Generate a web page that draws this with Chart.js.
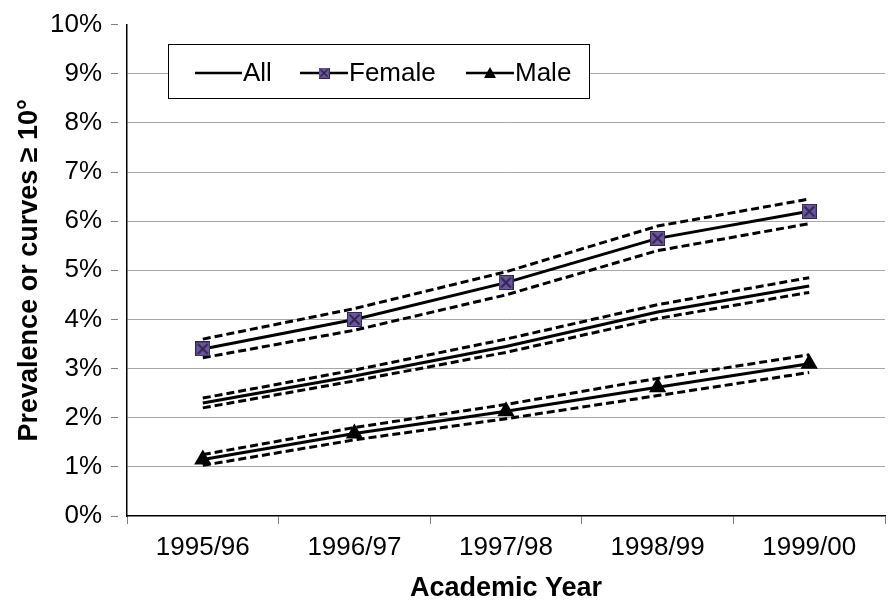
<!DOCTYPE html>
<html>
<head>
<meta charset="utf-8">
<script src="https://cdn.jsdelivr.net/npm/chart.js@4.4.1/dist/chart.umd.min.js"></script>
<style>
  html, body { margin: 0; padding: 0; background: #fff; overflow: hidden; }
  #wrap { width: 895px; height: 605px; }
</style>
</head>
<body>
<div id="wrap"><canvas id="chart"></canvas></div>
<script>
const years = ["1995/96", "1996/97", "1997/98", "1998/99", "1999/00"];

// prevalence (%) with dashed confidence bands
const allVals   = [2.30, 2.85, 3.45, 4.15, 4.68];
const allUpper  = [2.40, 2.97, 3.60, 4.30, 4.85];
const allLower  = [2.20, 2.75, 3.33, 4.02, 4.55];

const femaleVals  = [3.40, 4.00, 4.75, 5.65, 6.20];
const femaleUpper = [3.60, 4.22, 4.97, 5.90, 6.45];
const femaleLower = [3.22, 3.78, 4.50, 5.40, 5.95];

const maleVals  = [1.15, 1.68, 2.13, 2.62, 3.10];
const maleUpper = [1.25, 1.80, 2.27, 2.80, 3.28];
const maleLower = [1.03, 1.55, 1.98, 2.45, 2.92];

const yTicks = [0, 1, 2, 3, 4, 5, 6, 7, 8, 9, 10];

const FONT = "'Liberation Sans', Arial, sans-serif";

// square-with-cross marker for Female
function crossSquare(size) {
  const c = document.createElement("canvas");
  c.width = size; c.height = size;
  const g = c.getContext("2d");
  g.fillStyle = "#6b579b";
  g.fillRect(0, 0, size, size);
  g.strokeStyle = "#2f2552";
  g.lineWidth = 1;
  g.strokeRect(0.5, 0.5, size - 1, size - 1);
  g.lineWidth = 1.8;
  g.beginPath();
  g.moveTo(2.5, 2.5); g.lineTo(size - 2.5, size - 2.5);
  g.moveTo(size - 2.5, 2.5); g.lineTo(2.5, size - 2.5);
  g.stroke();
  return c;
}
const femaleMarker = crossSquare(15);

function solid(label, data, extra) {
  return Object.assign({
    label: label, data: data,
    borderColor: "#000", backgroundColor: "#000",
    borderWidth: 3, pointRadius: 0, tension: 0
  }, extra || {});
}
function dashed(data) {
  return {
    label: "", data: data,
    borderColor: "#000", borderWidth: 3, borderDash: [8, 4],
    pointRadius: 0, tension: 0
  };
}

// legend box drawn over the plot
const boxLegend = {
  id: "boxLegend",
  afterDraw(chart) {
    const ctx = chart.ctx;
    ctx.save();
    ctx.fillStyle = "#fff";
    ctx.fillRect(168, 44, 422, 54);
    ctx.strokeStyle = "#000";
    ctx.lineWidth = 1;
    ctx.strokeRect(168.5, 44.5, 421, 54);
    ctx.font = "26px " + FONT;
    ctx.textBaseline = "middle";
    ctx.fillStyle = "#000";
    const y = 73;
    const items = [
      { x0: 195, x1: 242, text: "All", marker: null },
      { x0: 300, x1: 348, text: "Female", marker: "sq" },
      { x0: 466, x1: 514, text: "Male", marker: "tri" }
    ];
    items.forEach(it => {
      ctx.strokeStyle = "#000";
      ctx.lineWidth = 2.5;
      ctx.beginPath();
      ctx.moveTo(it.x0, y); ctx.lineTo(it.x1, y);
      ctx.stroke();
      const cx = (it.x0 + it.x1) / 2;
      if (it.marker === "sq") {
        ctx.drawImage(femaleMarker, cx - 5.5, y - 5.5, 11, 11);
      } else if (it.marker === "tri") {
        ctx.beginPath();
        ctx.moveTo(cx, y - 6); ctx.lineTo(cx + 6, y + 5); ctx.lineTo(cx - 6, y + 5);
        ctx.closePath(); ctx.fill();
      }
      ctx.fillText(it.text, it.x1 + 1, y + 1);
    });
    ctx.restore();
  }
};

new Chart(document.getElementById("chart"), {
  type: "line",
  data: {
    labels: years,
    datasets: [
      solid("All", allVals),
      dashed(allUpper),
      dashed(allLower),
      solid("Female", femaleVals, { pointStyle: femaleMarker, pointRadius: 7 }),
      dashed(femaleUpper),
      dashed(femaleLower),
      solid("Male", maleVals, { pointStyle: "triangle", pointRadius: 7 }),
      dashed(maleUpper),
      dashed(maleLower)
    ]
  },
  options: {
    responsive: true,
    maintainAspectRatio: false,
    animation: false,
    layout: { padding: { top: 10, right: 0, left: 9, bottom: 0 } },
    plugins: { legend: { display: false }, tooltip: { enabled: false } },
    scales: {
      x: {
        offset: true,
        grid: { offset: true, drawOnChartArea: false, tickLength: 8, tickColor: "#808080" },
        border: { color: "#000", width: 1.5 },
        ticks: { color: "#000", padding: 8, maxRotation: 0, font: { size: 26, family: FONT } },
        title: {
          display: true, text: "Academic Year", color: "#000", padding: { top: 4, bottom: 0 },
          font: { size: 27, weight: "bold", family: FONT }
        },
        afterFit(scale) { scale.height = 89; }
      },
      y: {
        min: 0, max: 10,
        afterBuildTicks(scale) { scale.ticks = yTicks.map(v => ({ value: v })); },
        grid: {
          color: c => (c.tick && (c.tick.value === 0 || c.tick.value === 10)) ? "rgba(0,0,0,0)" : "#a6a6a6",
          // long tick so labels sit further out, only the inner 7px is drawn
          tickLength: 16, tickColor: "#808080", lineWidth: 1,
          tickBorderDash: [7, 40]
        },
        border: { color: "#000", width: 1.5 },
        ticks: {
          color: "#000", padding: 9,
          font: { size: 26, family: FONT },
          callback: v => v + "%"
        },
        title: {
          display: true, text: "Prevalence or curves \u2265 10\u00b0", color: "#000", padding: { bottom: 4 },
          font: { size: 27, weight: "bold", family: FONT }
        },
        afterFit(scale) { scale.width = 118; }
      }
    }
  },
  plugins: [boxLegend]
});
</script>
</body>
</html>
